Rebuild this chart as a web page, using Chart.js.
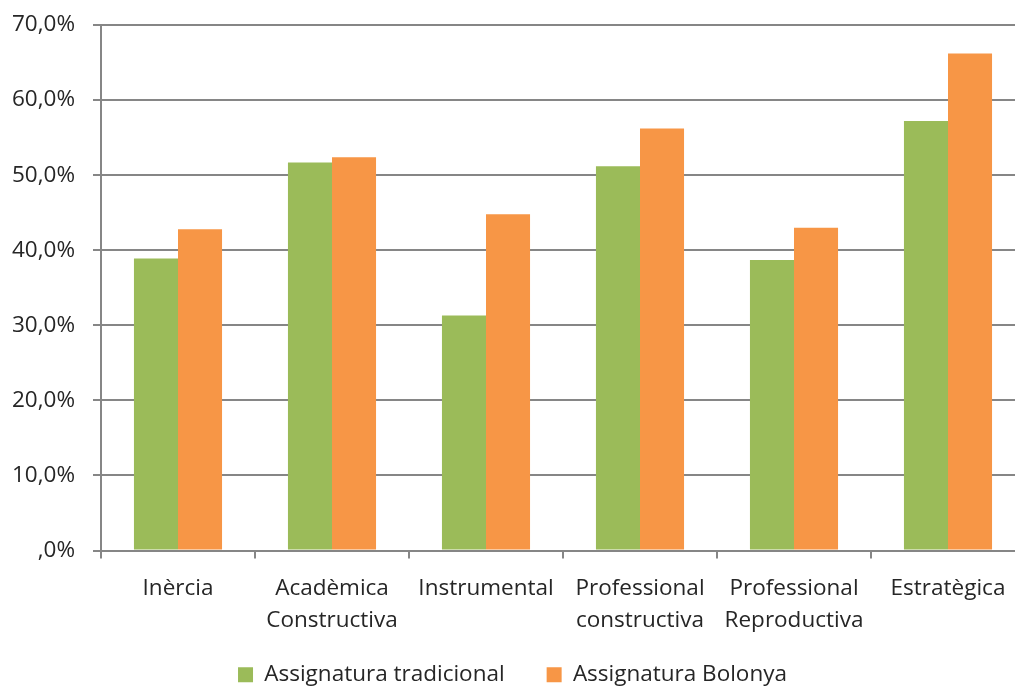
<!DOCTYPE html>
<html>
<head>
<meta charset="utf-8">
<script src="https://cdn.jsdelivr.net/npm/chart.js@4"></script>
<style>
  body { margin: 0; overflow: hidden; background: #fff; }
  #wrap { width: 1030px; height: 686px; }
</style>
</head>
<body>
<div id="wrap"><canvas id="myChart"></canvas></div>
<script>
const categories = ['Inèrcia', ['Acadèmica', 'Constructiva'], 'Instrumental', ['Professional', 'constructiva'], ['Professional', 'Reproductiva'], 'Estratègica'];
const tradicional = [38.9, 51.7, 31.3, 51.2, 38.7, 57.2];
const bolonya = [42.8, 52.4, 44.8, 56.2, 43.0, 66.2];
const seriesNames = ['Assignatura tradicional', 'Assignatura Bolonya'];

const font = { family: '"Open Sans", "Noto Sans", sans-serif', size: 22.5, lineHeight: 1.42 };
const yFont = { family: '"Open Sans", "Noto Sans", sans-serif', size: 22.5, lineHeight: 1 };
const gridColor = '#868686';

// legend sits closer to the axis labels than chart.js would put it
const legendShift = {
  id: 'legendShift',
  afterLayout(chart) {
    chart.legend.top -= 15;
    chart.legend.bottom -= 15;
  },
};

const myChart = new Chart('myChart', {
  type: 'bar',
  data: {
    labels: categories,
    datasets: [
      { label: seriesNames[0], data: tradicional, backgroundColor: '#9BBB59' },
      { label: seriesNames[1], data: bolonya, backgroundColor: '#F79646' },
    ],
  },
  plugins: [legendShift],
  options: {
    responsive: true,
    maintainAspectRatio: false,
    animation: false,
    layout: { autoPadding: false, padding: { top: 25, right: 5, left: 0, bottom: -25 } },
    datasets: { bar: { categoryPercentage: 0.572, barPercentage: 1 } },
    scales: {
      x: {
        grid: { drawOnChartArea: false, drawTicks: true, tickLength: 8, color: gridColor, lineWidth: 2 },
        border: { color: gridColor, width: 2 },
        ticks: { font: font, color: '#262626', padding: 14, maxRotation: 0, autoSkip: false },
        afterFit: (scale) => { scale.height = 86; },
      },
      y: {
        min: 0,
        max: 70,
        ticks: {
          stepSize: 10,
          font: yFont,
          color: '#262626',
          padding: 18,
          callback: (v) => (v === 0 ? ',0%' : v.toFixed(1).replace('.', ',') + '%'),
        },
        grid: { color: gridColor, lineWidth: 2, tickLength: 8 },
        border: { color: gridColor, width: 2 },
        afterFit: (scale) => {
          scale.width = 101;
          scale.paddingTop = 0;
          scale.paddingBottom = 0;
        },
      },
    },
    plugins: {
      legend: {
        position: 'bottom',
        labels: { font: font, color: '#262626', boxWidth: 15, boxHeight: 15, padding: 42 },
      },
      tooltip: { enabled: false },
    },
  },
});
</script>
</body>
</html>
